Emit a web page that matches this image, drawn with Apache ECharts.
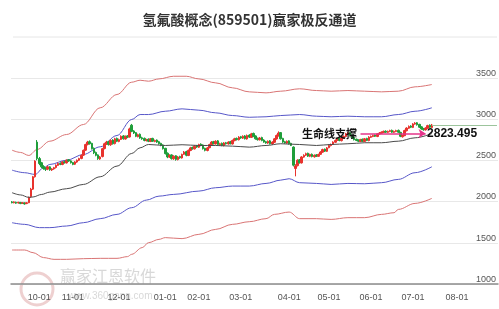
<!DOCTYPE html>
<html><head><meta charset="utf-8">
<script src="https://cdn.jsdelivr.net/npm/echarts@6/dist/echarts.min.js"></script>
<style>html,body{margin:0;padding:0;background:#fff}#c{width:499px;height:309px}</style>
</head><body><div id="c"></div>
<script>
const titleText = '氢氟酸概念(859501)赢家极反通道';
const firstDay = [2022, 8, 14];
const lastDay = [2023, 7, 28];
const holidays = ['2022-10-03','2022-10-04','2022-10-05','2022-10-06','2022-10-07','2023-01-02',
  '2023-01-23','2023-01-24','2023-01-25','2023-01-26','2023-01-27','2023-04-05',
  '2023-05-01','2023-05-02','2023-05-03','2023-06-22','2023-06-23'];
const yTicks = [1000, 1500, 2000, 2500, 3000, 3500];

const opens = [1995,1985,1990,1982,1988,1978,1982,1975,1985,2060,
2150,2300,2720,2520,2470,2425,2405,2392,2420,2382,
2395,2412,2438,2462,2450,2482,2468,2505,2492,2472,
2452,2478,2500,2522,2562,2622,2692,2725,2705,2645,
2595,2565,2515,2545,2642,2698,2725,2688,2745,2702,
2765,2728,2752,2795,2758,2795,2782,2925,2855,2835,
2785,2815,2772,2765,2738,2755,2728,2765,2728,2745,
2725,2705,2685,2645,2585,2538,2565,2518,2555,2508,
2545,2528,2572,2605,2558,2618,2655,2638,2675,2658,
2695,2685,2645,2618,2652,2688,2725,2698,2735,2688,
2705,2678,2712,2698,2725,2698,2738,2765,2748,2785,
2768,2795,2758,2805,2778,2825,2795,2765,2748,2775,
2745,2725,2708,2735,2698,2718,2758,2795,2835,2765,
2725,2708,2735,2705,2660,2400,2435,2505,2468,2538,
2562,2585,2548,2572,2542,2565,2548,2572,2598,2635,
2608,2652,2678,2692,2718,2742,2765,2738,2768,2788,
2818,2835,2805,2775,2755,2745,2728,2755,2728,2765,
2738,2778,2788,2805,2788,2818,2828,2838,2852,2838,
2848,2862,2838,2848,2862,2838,2785,2798,2858,2888,
2915,2898,2938,2955,2935,2905,2885,2868,2888,2925,2898];
const closes = [1985,1995,1980,1990,1975,1985,1970,1985,2050,2150,
2300,2490,2520,2460,2420,2400,2390,2420,2385,2395,
2410,2440,2460,2450,2480,2470,2500,2490,2470,2450,
2480,2500,2520,2560,2620,2690,2720,2700,2640,2590,
2560,2520,2540,2640,2700,2720,2690,2740,2700,2760,
2730,2750,2790,2760,2790,2780,2880,2850,2830,2790,
2810,2770,2760,2740,2750,2730,2760,2730,2740,2720,
2700,2680,2640,2580,2540,2560,2520,2550,2510,2540,
2530,2570,2600,2560,2620,2650,2640,2670,2660,2690,
2680,2640,2620,2650,2690,2720,2700,2730,2690,2700,
2680,2710,2700,2720,2700,2740,2760,2750,2780,2770,
2790,2760,2800,2780,2820,2790,2760,2750,2770,2740,
2720,2710,2730,2700,2720,2760,2800,2830,2760,2720,
2710,2730,2700,2680,2440,2430,2500,2470,2540,2560,
2580,2550,2570,2545,2560,2550,2570,2600,2630,2610,
2650,2680,2690,2720,2740,2760,2740,2770,2790,2820,
2830,2800,2770,2750,2740,2730,2750,2730,2760,2740,
2780,2790,2800,2790,2820,2830,2840,2850,2840,2850,
2860,2840,2850,2860,2840,2790,2800,2860,2890,2910,
2900,2940,2950,2930,2900,2880,2870,2890,2920,2900,2927];
const highs = [2005,2002,1998,1996,1995,1992,1990,1992,2060,2165,
2310,2500,2745,2540,2480,2440,2415,2432,2428,2405,
2420,2450,2472,2475,2490,2492,2510,2515,2500,2480,
2490,2510,2530,2570,2630,2700,2735,2740,2712,2655,
2605,2572,2552,2650,2712,2735,2735,2752,2755,2772,
2775,2762,2802,2805,2800,2805,2895,2940,2865,2842,
2822,2825,2785,2775,2760,2765,2770,2772,2750,2752,
2735,2712,2692,2650,2595,2572,2572,2560,2562,2552,
2555,2580,2612,2615,2630,2662,2665,2680,2685,2700,
2705,2692,2652,2660,2700,2732,2735,2742,2745,2712,
2715,2720,2722,2730,2735,2750,2772,2775,2792,2795,
2802,2805,2812,2815,2832,2835,2802,2775,2782,2785,
2755,2735,2740,2745,2730,2770,2812,2850,2842,2772,
2735,2740,2742,2712,2668,2452,2512,2515,2550,2572,
2592,2592,2580,2582,2570,2575,2580,2610,2640,2642,
2660,2692,2702,2730,2752,2772,2772,2780,2802,2832,
2842,2845,2812,2782,2762,2752,2760,2762,2770,2772,
2792,2800,2810,2812,2830,2842,2850,2860,2862,2860,
2870,2872,2860,2870,2872,2845,2812,2870,2900,2922,
2925,2950,2962,2962,2942,2912,2892,2900,2930,2935,2940];
const lows = [1978,1978,1972,1976,1968,1970,1962,1968,1980,2045,
2140,2290,2500,2440,2405,2385,2370,2380,2372,2370,
2385,2400,2430,2440,2440,2460,2460,2480,2460,2440,
2442,2468,2490,2512,2552,2612,2680,2690,2630,2575,
2548,2505,2505,2535,2632,2685,2678,2675,2690,2692,
2720,2718,2745,2750,2750,2768,2775,2840,2818,2780,
2778,2760,2748,2730,2728,2720,2720,2722,2718,2710,
2690,2670,2630,2570,2525,2528,2508,2505,2495,2498,
2518,2520,2565,2548,2550,2610,2628,2630,2650,2650,
2670,2630,2608,2608,2645,2680,2692,2690,2680,2678,
2670,2668,2690,2690,2692,2690,2730,2740,2740,2760,
2758,2752,2750,2770,2770,2780,2750,2738,2740,2730,
2712,2700,2698,2690,2688,2710,2750,2788,2750,2710,
2700,2700,2690,2672,2425,2305,2425,2460,2460,2530,
2552,2540,2538,2535,2532,2540,2540,2565,2590,2600,
2600,2645,2668,2685,2710,2735,2730,2728,2760,2780,
2810,2790,2760,2740,2732,2720,2720,2722,2720,2732,
2730,2770,2780,2782,2780,2810,2820,2830,2832,2830,
2840,2832,2830,2840,2832,2780,2775,2792,2850,2880,
2890,2890,2930,2920,2890,2870,2858,2860,2880,2892,2890];

// channel lines: [trading-day index, value]
const outerUpper = [[0,2622],[4,2595],[8,2558],[12,2631],[18,2731],[26,2812],[34,2933],[42,3136],[50,3297],[57,3446],[61,3470],[65,3458],[70,3486],[77,3518],[83,3518],[89,3486],[97,3438],[105,3378],[113,3329],[121,3317],[128,3337],[137,3366],[145,3345],[152,3337],[160,3345],[168,3337],[176,3329],[184,3337],[192,3390],[200,3418]];
const innerUpper = [[0,2380],[6,2349],[11,2328],[15,2409],[18,2449],[26,2501],[34,2570],[42,2663],[50,2800],[57,2994],[61,3054],[65,3054],[73,3094],[81,3123],[89,3107],[97,3075],[105,3042],[113,3021],[121,3027],[128,3042],[137,3054],[145,3034],[152,3027],[160,3034],[168,3027],[176,3027],[184,3054],[192,3094],[200,3136]];
const lifeLine = [[0,2107],[4,2080],[8,2050],[10,2055],[14,2085],[18,2114],[26,2155],[34,2207],[42,2300],[50,2429],[57,2582],[61,2651],[65,2691],[73,2679],[81,2688],[89,2679],[97,2679],[105,2671],[113,2659],[121,2679],[128,2700],[137,2691],[145,2679],[152,2691],[160,2700],[168,2712],[176,2712],[184,2731],[192,2772],[200,2823.495]];
const innerLower = [[0,1743],[6,1723],[13,1683],[18,1683],[26,1703],[34,1743],[42,1792],[50,1844],[57,1925],[64,2017],[70,2065],[77,2086],[89,2126],[97,2167],[105,2187],[113,2187],[121,2219],[128,2259],[132,2276],[137,2228],[145,2219],[152,2207],[160,2219],[168,2215],[176,2228],[184,2268],[192,2349],[200,2421]];
const outerLower = [[0,1412],[6,1412],[10,1380],[15,1320],[20,1299],[26,1299],[34,1307],[42,1311],[50,1311],[55,1332],[57,1360],[62,1441],[65,1501],[70,1541],[73,1562],[81,1550],[89,1602],[97,1662],[105,1723],[113,1755],[121,1792],[125,1844],[132,1872],[137,1792],[145,1792],[152,1783],[160,1804],[168,1804],[176,1844],[182,1864],[184,1904],[192,1977],[200,2038]];
const supportValue = 2823.495;
const supportLabel = '生命线支撑';

function buildDates() {
  const out = [];
  let t = Date.UTC(firstDay[0], firstDay[1], firstDay[2]);
  const end = Date.UTC(lastDay[0], lastDay[1], lastDay[2]);
  while (t <= end) {
    const d = new Date(t);
    const wd = d.getUTCDay();
    const s = d.toISOString().slice(0, 10);
    if (wd !== 0 && wd !== 6 && holidays.indexOf(s) < 0) out.push(s);
    t += 86400000;
  }
  return out;
}
const dates = buildDates();
const isMonthStart = i => i > 0 && dates[i].slice(5, 7) !== dates[i - 1].slice(5, 7);
const candles = closes.map((c, i) => [opens[i], c, lows[i], highs[i]]);
const lastIdx = closes.length - 1;

const chart = echarts.init(document.getElementById('c'), null, {renderer: 'canvas'});
const numFont = 'Liberation Sans, Arial, sans-serif';
const cjkFont = 'Noto Sans CJK SC, sans-serif';
function lineSeries(name, data, color, z) {
  return {name, type: 'line', data, showSymbol: false, smooth: 0.35, smoothMonotone: 'x',
    lineStyle: {color, width: 1}, z: z || 2, silent: true};
}
chart.setOption({
  animation: false,
  title: {text: titleText, left: 'center', top: 8,
    textStyle: {fontSize: 14, fontWeight: 'bold', color: '#333', fontFamily: cjkFont}},
  graphic: [
    {type: 'line', shape: {x1: 13, y1: 37, x2: 497, y2: 37}, style: {stroke: '#e6e6e6', lineWidth: 1}, z: 0},
    {type: 'circle', shape: {cx: 37, cy: 289, r: 16}, style: {fill: 'none', stroke: 'rgba(205,120,120,0.35)', lineWidth: 3}, z: 0},
    {type: 'text', left: 60, top: 268, style: {text: '赢家江恩软件', font: '16px ' + cjkFont, fill: 'rgba(190,190,190,0.6)'}, z: 0},
    {type: 'text', left: 68, top: 291, style: {text: 'www.360gann.com', font: '10px ' + numFont, fill: 'rgba(190,190,190,0.6)'}, z: 0}
  ],
  grid: {left: 11, right: 1, top: 53, bottom: 25, containLabel: false},
  xAxis: {
    type: 'category', data: dates, boundaryGap: true,
    axisLine: {lineStyle: {color: '#8c8c8c', width: 1.5}},
    axisTick: {alignWithLabel: true, length: 5, interval: (i) => isMonthStart(i), lineStyle: {color: '#8c8c8c'}},
    axisLabel: {interval: (i) => isMonthStart(i), formatter: v => v.slice(5, 7) + '-01',
      fontSize: 9, color: '#555', margin: 9, fontFamily: numFont},
    splitLine: {show: false}
  },
  yAxis: {
    type: 'value', position: 'right', min: 1000, max: 3800, interval: 500,
    axisLine: {show: false}, axisTick: {show: false},
    axisLabel: {inside: true, verticalAlign: 'bottom', margin: 2, fontSize: 9, color: '#555',
      fontFamily: numFont, showMaxLabel: false,
      formatter: v => (yTicks.indexOf(v) >= 0 ? String(v) : '')},
    splitLine: {show: true, showMaxLine: false, lineStyle: {color: '#e8e8e8', width: 1}}
  },
  series: [
    lineSeries('outerUpper', outerUpper, '#d97474'),
    lineSeries('innerUpper', innerUpper, '#5656c8'),
    lineSeries('innerLower', innerLower, '#5656c8'),
    lineSeries('outerLower', outerLower, '#d97474'),
    {
      name: 'K', type: 'candlestick', data: candles, barWidth: 2, z: 3, silent: true,
      itemStyle: {color: '#e8332e', color0: '#1f9e3a', borderColor: '#e8332e', borderColor0: '#1f9e3a', borderWidth: 1},
      markLine: {silent: true, symbol: ['none', 'none'], animation: false,
        lineStyle: {color: '#9cc49c', type: 'solid', width: 1.2}, label: {show: false},
        data: [[{coord: [dates[lastIdx], closes[lastIdx]]}, {coord: [dates[dates.length - 1], closes[lastIdx]]}]]}
    },
    Object.assign(lineSeries('lifeLine', lifeLine, '#4a4a4a', 4), {
      markLine: {silent: true, symbol: ['none', 'arrow'], symbolSize: 7, animation: false,
        lineStyle: {color: '#e4358a', type: 'solid', width: 1.5}, label: {show: false},
        data: [[{coord: [dates[166], supportValue]}, {coord: [dates[197], supportValue]}]]},
      markPoint: {silent: true, animation: false, symbol: 'rect', symbolSize: 1,
        itemStyle: {color: 'rgba(0,0,0,0)'},
        data: [
          {coord: [dates[166], supportValue], label: {show: true, formatter: supportLabel, position: 'left', distance: 3,
            fontSize: 11, fontWeight: 'bold', color: '#111', fontFamily: cjkFont}},
          {coord: [dates[197], supportValue], label: {show: true, formatter: String(supportValue), position: 'right', distance: 1,
            fontSize: 12, fontWeight: 'bold', color: '#111', fontFamily: numFont}}
        ]}
    })
  ]
});
</script>
</body></html>
